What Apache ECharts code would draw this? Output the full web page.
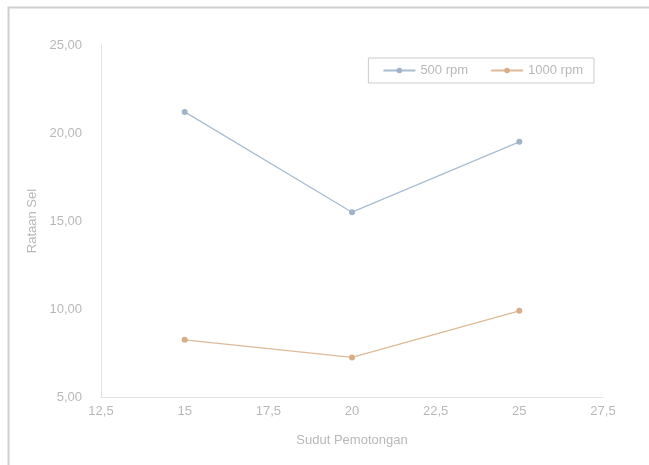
<!DOCTYPE html>
<html>
<head>
<meta charset="utf-8">
<script src="https://cdn.jsdelivr.net/npm/echarts@6/dist/echarts.min.js"></script>
<style>
html,body{margin:0;padding:0;background:#fff;}
#c{width:649px;height:465px;}
</style>
</head>
<body>
<div id="c"></div>
<script>
var sudut = [15, 20, 25];
var rpm500 = [21.2, 15.5, 19.5];
var rpm1000 = [8.25, 7.25, 9.9];
var seriesNames = ['500 rpm', '1000 rpm'];

function pairs(xs, ys){ return xs.map(function(x,i){ return [x, ys[i]]; }); }
function comma(v, d){ return v.toFixed(d).replace('.', ','); }

var chart = echarts.init(document.getElementById('c'));
var txt = '#b8b8b8';
var font = 'Liberation Sans';
chart.setOption({
  animation: false,
  backgroundColor: '#fff',
  graphic: [{
    type: 'rect', left: 6, top: 5,
    shape: {width: 700, height: 520},
    style: {fill: 'none', stroke: '#cfcfcf', lineWidth: 2},
    silent: true
  }],
  grid: {left: 101, right: 46, top: 45, bottom: 68},
  legend: {
    data: seriesNames,
    right: 55, top: 58,
    orient: 'horizontal',
    borderColor: '#cbcbcb', borderWidth: 1,
    padding: [6, 11, 6, 14],
    itemGap: 22, itemWidth: 32, itemHeight: 7,
    textStyle: {color: txt, fontSize: 13, fontFamily: font}
  },
  xAxis: {
    type: 'value', min: 12.5, max: 27.5, interval: 2.5,
    name: 'Sudut Pemotongan', nameLocation: 'middle', nameGap: 37,
    nameTextStyle: {color: txt, fontSize: 13, fontFamily: font},
    axisLine: {show: true, lineStyle: {color: '#e3e3e3', width: 1}},
    axisTick: {show: false},
    splitLine: {show: false},
    axisLabel: {color: txt, fontSize: 13, fontFamily: font, margin: 8,
      formatter: function(v){ return (Math.round(v*10) % 10 === 0) ? String(v) : comma(v,1); }}
  },
  yAxis: {
    type: 'value', min: 5, max: 25, interval: 5,
    name: 'Rataan Sel', nameLocation: 'middle', nameGap: 61, nameRotate: 90,
    nameTextStyle: {color: txt, fontSize: 13, fontFamily: font},
    axisLine: {show: true, lineStyle: {color: '#e3e3e3', width: 1}},
    axisTick: {show: false},
    splitLine: {show: false},
    axisLabel: {color: txt, fontSize: 13, fontFamily: font, margin: 19,
      formatter: function(v){ return comma(v,2); }}
  },
  series: [{
    name: seriesNames[0], type: 'line', data: pairs(sudut, rpm500),
    symbol: 'circle', symbolSize: 6,
    lineStyle: {color: '#a9bdd2', width: 1.3},
    itemStyle: {color: '#9fb3c9'}
  }, {
    name: seriesNames[1], type: 'line', data: pairs(sudut, rpm1000),
    symbol: 'circle', symbolSize: 6,
    lineStyle: {color: '#dfba96', width: 1.3},
    itemStyle: {color: '#d8ae88'}
  }]
});
</script>
</body>
</html>
